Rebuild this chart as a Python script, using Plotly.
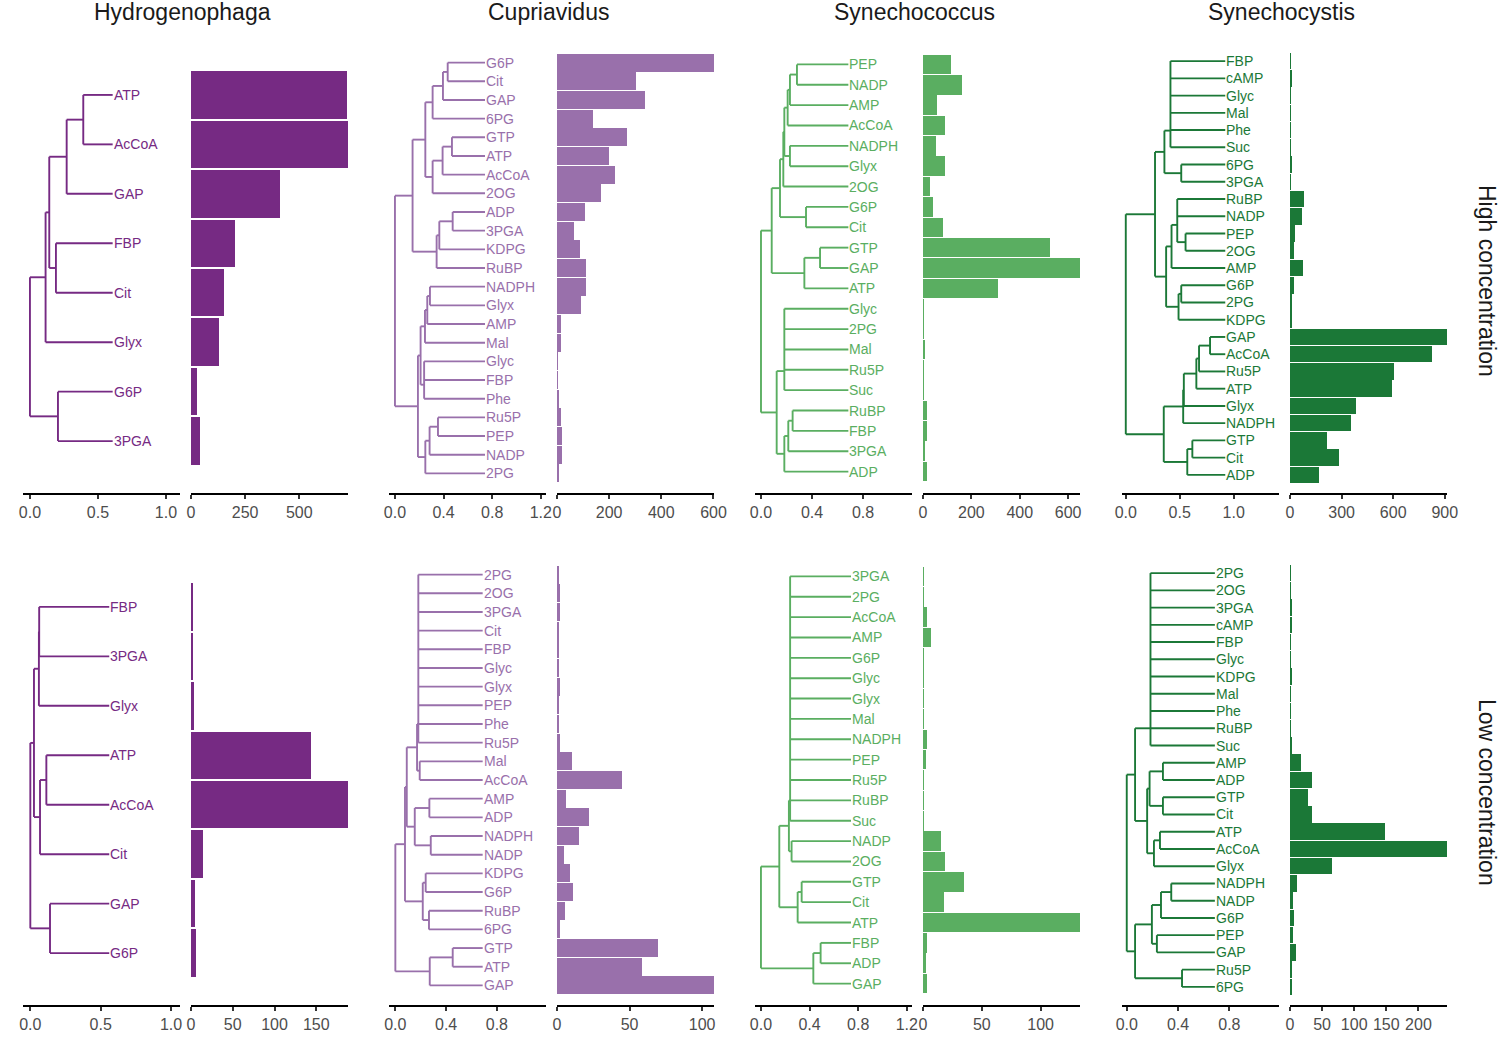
import plotly.graph_objects as go

# ---------------- data ----------------
species = ["Hydrogenophaga", "Cupriavidus", "Synechococcus", "Synechocystis"]
species_colors = ["#762a83", "#9970ab", "#5aae61", "#1b7837"]
conditions = ["High concentration", "Low concentration"]

# --- High concentration ---
hyd_hi_leaves = ["ATP", "AcCoA", "GAP", "FBP", "Cit", "Glyx", "G6P", "3PGA"]
hyd_hi_vals = [720, 725, 413, 201, 151, 128, 26, 40]
hyd_hi_height = 0.608
hyd_hi_tree = [0.0,
               [0.115, [0.142, [0.27, [0.392, "ATP", "AcCoA"], "GAP"], [0.191, "FBP", "Cit"]], "Glyx"],
               [0.206, "G6P", "3PGA"]]

cup_hi_leaves = ["G6P", "Cit", "GAP", "6PG", "GTP", "ATP", "AcCoA", "2OG", "ADP", "3PGA", "KDPG", "RuBP",
                 "NADPH", "Glyx", "AMP", "Mal", "Glyc", "FBP", "Phe", "Ru5P", "PEP", "NADP", "2PG"]
cup_hi_vals = [602, 302, 338, 138, 269, 200, 223, 169, 107, 64, 88, 111,
               111, 91, 17, 17, 1, 1, 6, 17, 21, 21, 6]
cup_hi_height = 0.741
cup_hi_tree = [0.0,
               [0.145,
                [0.25,
                 [0.31, [0.395, [0.434, "G6P", "Cit"], "GAP"], "6PG"],
                 [0.31, [0.392, [0.469, "GTP", "ATP"], "AcCoA"], "2OG"]],
                [0.343, [0.365, [0.475, "ADP", "3PGA"], "KDPG"], "RuBP"]],
               [0.189,
                [0.211, [0.247, [0.266, [0.288, "NADPH", "Glyx"], "AMP"], "Mal"], [0.24, "Glyc", "FBP", "Phe"]],
                [0.25, [0.285, [0.354, "Ru5P", "PEP"], "NADP"], "2PG"]]]

syc_hi_leaves = ["PEP", "NADP", "AMP", "AcCoA", "NADPH", "Glyx", "2OG", "G6P", "Cit", "GTP", "GAP", "ATP",
                 "Glyc", "2PG", "Mal", "Ru5P", "Suc", "RuBP", "FBP", "3PGA", "ADP"]
syc_hi_vals = [116, 161, 56, 91, 54, 91, 29, 40, 83, 524, 649, 310,
               3, 3, 7, 2, 1, 15, 15, 8, 17]
syc_hi_height = 0.685
syc_hi_tree = [0.0,
               [0.084,
                [0.149,
                 [0.175, [0.183, [0.209, [0.227, [0.282, "PEP", "NADP"], "AMP"], "AcCoA"],
                          [0.227, "NADPH", "Glyx"]], "2OG"],
                 [0.353, "G6P", "Cit"]],
                [0.34, [0.463, "GTP", "GAP"], "ATP"]],
               [0.123,
                [0.183, "Glyc", "2PG", "Mal", "Ru5P", "Suc"],
                [0.183, [0.214, [0.248, "RuBP", "FBP"], "3PGA"], "ADP"]]]

sys_hi_leaves = ["FBP", "cAMP", "Glyc", "Mal", "Phe", "Suc", "6PG", "3PGA", "RuBP", "NADP", "PEP", "2OG",
                 "AMP", "G6P", "2PG", "KDPG", "GAP", "AcCoA", "Ru5P", "ATP", "Glyx", "NADPH", "GTP", "Cit", "ADP"]
sys_hi_vals = [4, 10, 2, 2, 2, 2, 10, 2, 80, 70, 27, 23,
               76, 21, 8, 10, 913, 828, 606, 595, 385, 356, 216, 286, 169]
sys_hi_height = 0.922
sys_hi_tree = [0.0,
               [0.271,
                [0.358, [0.414, "FBP", "cAMP", "Glyc", "Mal", "Phe", "Suc"], [0.514, "6PG", "3PGA"]],
                [0.374,
                 [0.424, [0.477, "RuBP", "NADP", [0.554, "PEP", "2OG"]], "AMP"],
                 [0.489, [0.514, "G6P", "2PG"], "KDPG"]]],
               [0.352,
                [0.532, [0.538, [0.654, [0.679, [0.781, "GAP", "AcCoA"], "Ru5P"], "ATP"], "Glyx"], "NADPH"],
                [0.57, [0.617, "GTP", "Cit"], "ADP"]]]

# --- Low concentration ---
hyd_lo_leaves = ["FBP", "3PGA", "Glyx", "ATP", "AcCoA", "Cit", "GAP", "G6P"]
hyd_lo_vals = [2, 2, 3.2, 144, 188, 14.4, 4.4, 5.6]
hyd_lo_height = 0.561
hyd_lo_tree = [0.0,
               [0.026, [0.061, [0.063, "FBP", "3PGA"], "Glyx"], [0.069, [0.114, "ATP", "AcCoA"], "Cit"]],
               [0.14, "GAP", "G6P"]]

cup_lo_leaves = ["2PG", "2OG", "3PGA", "Cit", "FBP", "Glyc", "Glyx", "PEP", "Phe", "Ru5P", "Mal", "AcCoA",
                 "AMP", "ADP", "NADPH", "NADP", "KDPG", "G6P", "RuBP", "6PG", "GTP", "ATP", "GAP"]
cup_lo_vals = [0.9, 1.8, 1.8, 1.2, 1.2, 0.9, 1.8, 0.9, 0.9, 1.8, 10, 44.8,
               6.5, 21.9, 15, 4.6, 8.8, 10.9, 5.8, 2.3, 69.7, 58.6, 108.2]
cup_lo_height = 0.688
cup_lo_tree = [0.0,
               [0.076,
                [0.09,
                 [0.171, [0.181, "2PG", "2OG", "3PGA", "Cit", "FBP", "Glyc", "Glyx", "PEP", "Phe", "Ru5P"],
                  [0.192, "Mal", "AcCoA"]],
                 [0.153, [0.268, "AMP", "ADP"], [0.279, "NADPH", "NADP"]]],
                [0.216, [0.239, "KDPG", "G6P"], [0.265, "RuBP", "6PG"]]],
               [0.271, [0.452, "GTP", "ATP"], "GAP"]]

syc_lo_leaves = ["3PGA", "2PG", "AcCoA", "AMP", "G6P", "Glyc", "Glyx", "Mal", "NADPH", "PEP", "Ru5P", "RuBP",
                 "Suc", "NADP", "2OG", "GTP", "Cit", "ATP", "FBP", "ADP", "GAP"]
syc_lo_vals = [0.6, 0.6, 3.1, 6.8, 0.5, 0.5, 0.5, 0.5, 3.1, 2.3, 0.5, 0.5,
               0.5, 15.3, 18.7, 34.9, 17.9, 133.5, 3.1, 2.3, 3.1]
syc_lo_height = 0.741
syc_lo_tree = [0.0,
               [0.151,
                [0.23, [0.24, "3PGA", "2PG", "AcCoA", "AMP", "G6P", "Glyc", "Glyx", "Mal", "NADPH", "PEP",
                        "Ru5P", "RuBP", "Suc"], [0.252, "NADP", "2OG"]],
                [0.302, [0.335, "GTP", "Cit"], "ATP"]],
               [0.431, [0.491, "FBP", "ADP"], "GAP"]]

sys_lo_leaves = ["2PG", "2OG", "3PGA", "cAMP", "FBP", "Glyc", "KDPG", "Mal", "Phe", "RuBP", "Suc", "AMP",
                 "ADP", "GTP", "Cit", "ATP", "AcCoA", "Glyx", "NADPH", "NADP", "G6P", "PEP", "GAP", "Ru5P", "6PG"]
sys_lo_vals = [1, 1, 2, 3.7, 1, 1, 2.6, 1, 1, 1, 2.6, 17.2,
               34.5, 27.7, 34.5, 147.3, 244.5, 65.3, 10.4, 4.2, 6.3, 4.2, 8.9, 2.6, 2.6]
sys_lo_height = 0.687
sys_lo_tree = [0.0,
               [0.065,
                [0.185, "2PG", "2OG", "3PGA", "cAMP", "FBP", "Glyc", "KDPG", "Mal", "Phe", "RuBP", "Suc"],
                [0.159, [0.178, [0.282, "AMP", "ADP"], [0.282, "GTP", "Cit"]],
                 [0.212, [0.259, "ATP", "AcCoA"], "Glyx"]]],
               [0.065,
                [0.196, [0.267, [0.347, "NADPH", "NADP"], "G6P"], [0.235, "PEP", "GAP"]],
                [0.431, "Ru5P", "6PG"]]]

# panel order: row (condition) x column (species)
panels = [
    (hyd_hi_leaves, hyd_hi_vals, hyd_hi_tree, hyd_hi_height),
    (cup_hi_leaves, cup_hi_vals, cup_hi_tree, cup_hi_height),
    (syc_hi_leaves, syc_hi_vals, syc_hi_tree, syc_hi_height),
    (sys_hi_leaves, sys_hi_vals, sys_hi_tree, sys_hi_height),
    (hyd_lo_leaves, hyd_lo_vals, hyd_lo_tree, hyd_lo_height),
    (cup_lo_leaves, cup_lo_vals, cup_lo_tree, cup_lo_height),
    (syc_lo_leaves, syc_lo_vals, syc_lo_tree, syc_lo_height),
    (sys_lo_leaves, sys_lo_vals, sys_lo_tree, sys_lo_height),
]

# axis settings per panel
dendro_ranges = [[-0.051, 1.103], [-0.049, 1.243], [-0.047, 1.184], [-0.035, 1.42],
                 [-0.052, 1.064], [-0.05, 1.187], [-0.049, 1.243], [-0.037, 1.187]]
dendro_dticks = [0.5, 0.4, 0.4, 0.5, 0.5, 0.4, 0.4, 0.4]
bar_dticks = [250, 200, 200, 300, 50, 50, 50, 50]

# ---------------- layout geometry ----------------
W, H = 1500, 1050
FONT = "Liberation Sans, Arial, Helvetica, sans-serif"
col_start = [23, 389, 755, 1122]
panel_w = 157
bar_off = 168
row_top = [43, 555]
row_bot = [493, 1005]
EXP = 0.55


def px_x(v):
    return v / W


def px_y(v):
    return 1 - v / H


def tree_leaves(node):
    if isinstance(node, str):
        return [node]
    out = []
    for k in node[1:]:
        out += tree_leaves(k)
    return out


def layout_tree(node, pos, leaf_end):
    if isinstance(node, str):
        return leaf_end, pos[node], []
    h = node[0]
    segs = []
    ys = []
    for k in node[1:]:
        kx, ky, ks = layout_tree(k, pos, leaf_end)
        segs += ks
        segs.append(((h, ky), (kx, ky)))
        ys.append(ky)
    segs.append(((h, min(ys)), (h, max(ys))))
    y = ys[0]
    for v in ys[1:]:
        y = (y + v) / 2.0
    return h, y, segs


fig = go.Figure()
annotations = []
layout_axes = {}

for p, (leaves, vals, tree, height) in enumerate(panels):
    r, c = divmod(p, 4)
    color = species_colors[c]
    assert tree_leaves(tree) == leaves, (p, tree_leaves(tree))
    n = len(leaves)
    pos = {name: i + 1 for i, name in enumerate(leaves)}
    _, _, segs = layout_tree(tree, pos, height)
    xs, ys = [], []
    for (x0, y0), (x1, y1) in segs:
        xs += [x0, x1, None]
        ys += [y0, y1, None]

    da = 2 * p + 1
    ba = 2 * p + 2
    dx = "x" if da == 1 else f"x{da}"
    dy = "y" if da == 1 else f"y{da}"
    bx = f"x{ba}"
    by = f"y{ba}"

    fig.add_trace(go.Scatter(x=xs, y=ys, mode="lines", xaxis=dx, yaxis=dy,
                             line=dict(color=color, width=1.9), hoverinfo="skip",
                             showlegend=False))
    fig.add_trace(go.Bar(x=vals, y=list(range(1, n + 1)), orientation="h", xaxis=bx, yaxis=by,
                         marker=dict(color=color, line=dict(width=0)), width=0.96,
                         showlegend=False))

    for name in leaves:
        annotations.append(dict(x=height, y=pos[name], xref=dx, yref=dy, text=name,
                                showarrow=False, xanchor="left", yanchor="middle", xshift=-1,
                                font=dict(family=FONT, size=14, color=color)))

    s = col_start[c]
    yrng = [n + 0.5 + EXP, 0.5 - EXP]
    ydom = [px_y(row_bot[r]), px_y(row_top[r])]
    common_x = dict(showgrid=False, zeroline=False, showline=True, linecolor="black", linewidth=1.5,
                    ticks="outside", ticklen=4, tickwidth=1.5, tickcolor="#333333", automargin=False,
                    tickfont=dict(family=FONT, size=16, color="#4d4d4d"))
    common_y = dict(visible=False, showgrid=False, zeroline=False, range=yrng, domain=ydom,
                    automargin=False)

    dkey = "xaxis" if da == 1 else f"xaxis{da}"
    dykey = "yaxis" if da == 1 else f"yaxis{da}"
    layout_axes[dkey] = dict(common_x, domain=[px_x(s), px_x(s + panel_w)], range=dendro_ranges[p],
                             tick0=0, dtick=dendro_dticks[p], tickformat=".1f", anchor=dy)
    layout_axes[dykey] = dict(common_y, anchor=dx)
    layout_axes[f"xaxis{ba}"] = dict(common_x, domain=[px_x(s + bar_off), px_x(s + bar_off + panel_w)],
                                     range=[0, max(vals)], tick0=0, dtick=bar_dticks[p], anchor=by)
    layout_axes[f"yaxis{ba}"] = dict(common_y, anchor=bx)

# column titles
for c, name in enumerate(species):
    cx = col_start[c] + (bar_off + panel_w) / 2 - 3
    annotations.append(dict(x=px_x(cx), y=px_y(12), xref="paper", yref="paper", text=name,
                            showarrow=False, xanchor="center", yanchor="middle",
                            font=dict(family=FONT, size=23, color="#1a1a1a")))
# row labels
row_label_y = [281, 792]
for r, name in enumerate(conditions):
    annotations.append(dict(x=px_x(1487), y=px_y(row_label_y[r]), xref="paper", yref="paper", text=name,
                            showarrow=False, xanchor="center", yanchor="middle", textangle=90,
                            font=dict(family=FONT, size=23, color="#1a1a1a")))

fig.update_layout(width=W, height=H, autosize=False, margin=dict(l=0, r=0, t=0, b=0, pad=0),
                  paper_bgcolor="white", plot_bgcolor="white", bargap=0,
                  font=dict(family=FONT), annotations=annotations, **layout_axes)

fig.write_html("out.html",
               config={"responsive": False, "displayModeBar": False},
               post_script="document.body.style.margin='0';")
